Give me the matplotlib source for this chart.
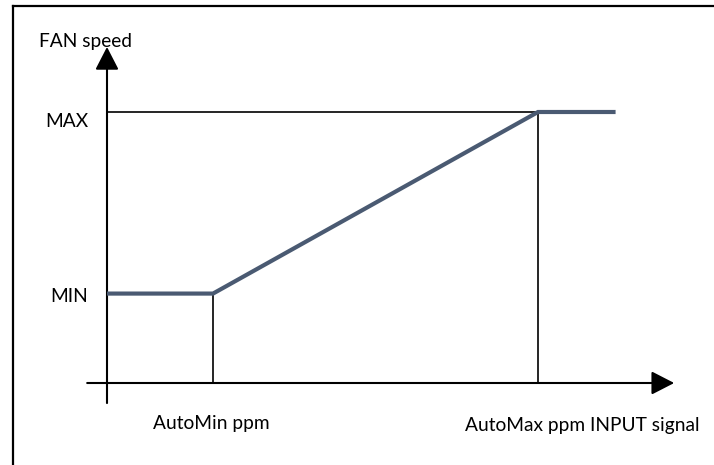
import matplotlib
matplotlib.use("Agg")
import matplotlib.pyplot as plt
from matplotlib.lines import Line2D

# fan curve (input signal in % of AutoMax, fan speed in % of MAX)
signal = [0, 24.6, 100, 118]
fan_speed = [33, 33, 100, 100]
level_labels = ["MIN", "MAX"]
signal_labels = ["AutoMin ppm", "AutoMax ppm INPUT signal"]
y_title = "FAN speed"

LINE_COLOR = "#4a5a72"
FONT = "Lato"

fig = plt.figure(figsize=(7.14, 4.65), dpi=100)
ax = fig.add_axes([0, 0, 1, 1])
# pixel-like mapping: origin at (107, 383), 4.31 px/unit in x, 2.71 px/unit in y
ax.set_xlim(-107 / 4.31, (714 - 107) / 4.31)
ax.set_ylim(-(465 - 383) / 2.71, 383 / 2.71)
ax.axis("off")

auto_min, auto_max = signal[1], signal[2]
v_min, v_max = fan_speed[0], fan_speed[2]

# axes with arrow heads
arrow = dict(arrowstyle="-|>,head_length=0.7,head_width=0.36", mutation_scale=20,
             lw=1.5, color="black", shrinkA=0, shrinkB=0)
ax.annotate("", xy=(0, 124.0), xytext=(0, -7.4), arrowprops=arrow)
ax.annotate("", xy=(131.6, 0), xytext=(-4.6, 0), arrowprops=arrow)

# guide lines
ax.plot([0, auto_max], [v_max, v_max], color="black", lw=1.2)
ax.plot([auto_max, auto_max], [0, v_max], color="black", lw=1.2)
ax.plot([auto_min, auto_min], [0, v_min], color="black", lw=1.2)

# fan curve
ax.plot(signal, fan_speed, color=LINE_COLOR, lw=3.0, solid_capstyle="butt",
        solid_joinstyle="miter", zorder=3)

# labels
fs = 13.8
ax.text(-5.0, 126, y_title, fontsize=fs, family=FONT, ha="center", va="center")
ax.text(-4.3, v_min - 1.2, level_labels[0], fontsize=fs, family=FONT, ha="right", va="center")
ax.text(-4.3, v_max - 3.6, level_labels[1], fontsize=fs, family=FONT, ha="right", va="center")
ax.text(auto_min - 0.5, -15.0, signal_labels[0], fontsize=fs, family=FONT, ha="center", va="center")
ax.text(83.0, -15.6, signal_labels[1], fontsize=fs, family=FONT, ha="left", va="center")

# frame (top and left edges visible)
fig.add_artist(Line2D([13 / 714, 13 / 714], [0, 1 - 6 / 465], transform=fig.transFigure,
                      color="black", lw=1.6))
fig.add_artist(Line2D([13 / 714, 1], [1 - 6 / 465, 1 - 6 / 465], transform=fig.transFigure,
                      color="black", lw=1.6))

fig.savefig("out.png", dpi=100)
